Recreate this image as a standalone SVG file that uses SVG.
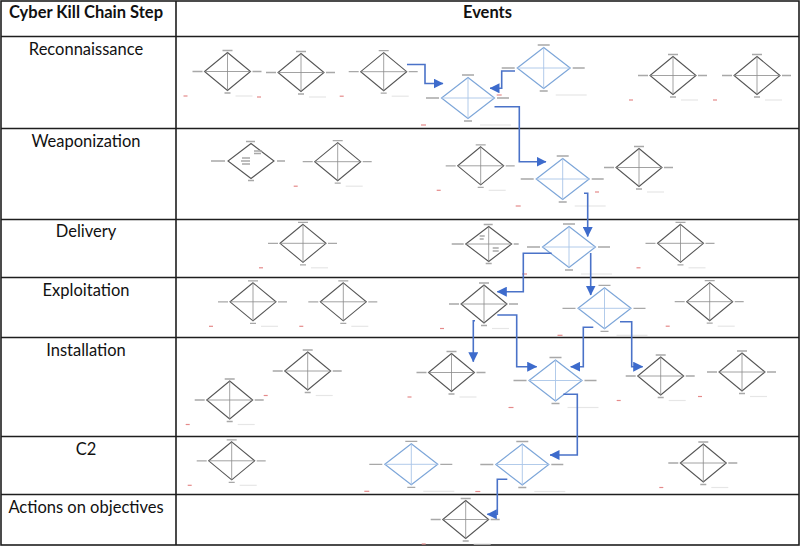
<svg xmlns="http://www.w3.org/2000/svg" xmlns:xlink="http://www.w3.org/1999/xlink" width="800" height="546" viewBox="0 0 800 546">
<style>
.grid{stroke:#1e1e1e;stroke-width:1.6;fill:none}
.hdr{font-family:Lato,"Liberation Sans",sans-serif;font-weight:bold;font-size:16.5px;fill:#111}
.row{font-family:Lato,"Liberation Sans",sans-serif;font-size:16.5px;fill:#111}
.dk{fill:none;stroke:#555;stroke-width:1.1}
.xk{fill:none;stroke:#8a8a8a;stroke-width:0.8}
.db{fill:none;stroke:#7da6d9;stroke-width:1.2}
.xb{fill:none;stroke:#a9c5e8;stroke-width:0.9}
.lbl{fill:none;stroke:#a8a8a8;stroke-width:1.3}
.red{fill:none;stroke:#e58a8a;stroke-width:1.2}
.ghost{fill:none;stroke:#e6e6e6;stroke-width:1.2}
.arr{fill:none;stroke:#4a72c8;stroke-width:1.6}
</style>
<defs>
<marker id="ah" viewBox="0 0 10 10" refX="9.5" refY="5" markerWidth="10" markerHeight="10" markerUnits="userSpaceOnUse" orient="auto">
<path d="M0,0 L10,5 L0,10 Z" fill="#3d6bcc"/>
</marker>
<g id="dkd">
<path class="dk" d="M0,-19 L23,0 L0,19 L-23,0 Z"/>
<path class="xk" d="M0,-19 V19 M-23,0 H23"/>
<path class="lbl" d="M-5,-21 h10 M-35,0 h10 M25,0 h9 M-3,21.5 h6"/>
<path class="red" d="M-44,24.5 h4"/>
<path class="ghost" d="M8,24.5 h17"/>
</g>
<g id="dbd">
<path class="db" d="M0,-20.5 L26.5,0 L0,20.5 L-26.5,0 Z"/>
<path class="xb" d="M0,-20.5 V20.5 M-26.5,0 H26.5"/>
<path class="lbl" d="M-6,-23 h12 M-42,0 h13 M29,0 h12 M-4,23 h8"/>
<path class="red" d="M-47,27 h5"/>
<path class="ghost" d="M12,27 h31"/>
</g>
<g id="dod">
<path class="dk" d="M0,-17.5 L23,0 L0,17.5 L-23,0 Z"/>
<path class="lbl" d="M-5,-19.5 h9 M-40,0 h14 M26,0 h8 M-3,19.5 h6 M3,-10 h8 M3,-7.5 h7 M-9,-3 h8 M-10,0 h9 M-9,3 h8"/>
</g>
<g id="dxd">
<path class="dk" d="M0,-17.5 L23,0 L0,17.5 L-23,0 Z"/>
<path class="xk" d="M0,-17.5 V17.5 M-23,0 H23"/>
<path class="lbl" d="M-5,-19.5 h9 M-37,0 h12 M25,0 h5 M-3,19.5 h6 M-9,-8 h5 M-9,-5 h4 M4,4 h6 M4,7 h6"/>
</g>
</defs>

<g id="table">
<rect class="grid" x="1" y="1" width="798" height="544"/>
<path class="grid" d="M176,1 V545 M1,36.5 H799 M1,128.5 H799 M1,219.5 H799 M1,277.5 H799 M1,337.5 H799 M1,436.5 H799 M1,494.5 H799"/>
<text class="hdr" x="86" y="17.5" text-anchor="middle">Cyber Kill Chain Step</text>
<text class="hdr" x="487.5" y="17.5" text-anchor="middle">Events</text>
<text class="row" x="86" y="54.5" text-anchor="middle">Reconnaissance</text>
<text class="row" x="86" y="146.5" text-anchor="middle">Weaponization</text>
<text class="row" x="86" y="237" text-anchor="middle">Delivery</text>
<text class="row" x="86" y="296" text-anchor="middle">Exploitation</text>
<text class="row" x="86" y="356" text-anchor="middle">Installation</text>
<text class="row" x="86" y="455" text-anchor="middle">C2</text>
<text class="row" x="86" y="513" text-anchor="middle">Actions on objectives</text>
</g>

<g id="r1">
<g id="r1a"><use xlink:href="#dkd" href="#dkd" x="227.5" y="71.5"/></g>
<g id="r1b"><use xlink:href="#dkd" href="#dkd" x="301" y="72.5"/></g>
<g id="r1c"><use xlink:href="#dkd" href="#dkd" x="383.7" y="71.7"/></g>
<g id="r1d"><use xlink:href="#dbd" href="#dbd" x="468" y="98"/></g>
<g id="r1e"><use xlink:href="#dbd" href="#dbd" x="543.7" y="68"/></g>
<g id="r1f"><use xlink:href="#dkd" href="#dkd" x="673" y="75.5"/></g>
<g id="r1g"><use xlink:href="#dkd" href="#dkd" x="757" y="75.5"/></g>
</g>
<g id="r2">
<g id="r2a"><use xlink:href="#dod" href="#dod" x="251" y="161"/></g>
<g id="r2b"><use xlink:href="#dkd" href="#dkd" x="337.7" y="161.7"/></g>
<g id="r2c"><use xlink:href="#dkd" href="#dkd" x="480.7" y="165.8"/></g>
<g id="r2d"><use xlink:href="#dbd" href="#dbd" x="562.7" y="179"/></g>
<g id="r2e"><use xlink:href="#dkd" href="#dkd" x="639" y="167.5"/></g>
</g>
<g id="r3">
<g id="r3a"><use xlink:href="#dkd" href="#dkd" x="303" y="243.3"/></g>
<g id="r3b"><use xlink:href="#dxd" href="#dxd" x="488.7" y="244"/></g>
<g id="r3c"><use xlink:href="#dbd" href="#dbd" x="569" y="247"/></g>
<g id="r3d"><use xlink:href="#dkd" href="#dkd" x="680.5" y="243.3"/></g>
</g>
<g id="r4">
<g id="r4a"><use xlink:href="#dkd" href="#dkd" x="253" y="301.8"/></g>
<g id="r4b"><use xlink:href="#dkd" href="#dkd" x="343.3" y="301.8"/></g>
<g id="r4c"><use xlink:href="#dkd" href="#dkd" x="484" y="304"/></g>
<g id="r4d"><use xlink:href="#dbd" href="#dbd" x="604.5" y="308.3"/></g>
<g id="r4e"><use xlink:href="#dkd" href="#dkd" x="709.7" y="301.7"/></g>
</g>
<g id="r5">
<g id="r5a"><use xlink:href="#dkd" href="#dkd" x="229.7" y="400"/></g>
<g id="r5b"><use xlink:href="#dkd" href="#dkd" x="307.7" y="371"/></g>
<g id="r5c"><use xlink:href="#dkd" href="#dkd" x="451.5" y="372.5"/></g>
<g id="r5d"><use xlink:href="#dbd" href="#dbd" x="555.5" y="380.5"/></g>
<g id="r5e"><use xlink:href="#dkd" href="#dkd" x="660.7" y="376"/></g>
<g id="r5f"><use xlink:href="#dkd" href="#dkd" x="742" y="372"/></g>
</g>
<g id="r6">
<g id="r6a"><use xlink:href="#dkd" href="#dkd" x="231.7" y="460.8"/></g>
<g id="r6b"><use xlink:href="#dbd" href="#dbd" x="411.3" y="464.3"/></g>
<g id="r6c"><use xlink:href="#dbd" href="#dbd" x="522.3" y="464.5"/></g>
<g id="r6d"><use xlink:href="#dkd" href="#dkd" x="703.3" y="463"/></g>
</g>
<g id="r7">
<g id="r7a"><use xlink:href="#dkd" href="#dkd" x="465.7" y="519.5"/></g>
</g>

<g id="connectors">
<path class="arr" marker-end="url(#ah)" d="M407,64.5 H425 V83.5 H443"/>
<path class="arr" marker-end="url(#ah)" d="M515,71 H501.7 V88.3 H490"/>
<path class="arr" marker-end="url(#ah)" d="M494.5,106.7 H519.3 V161.7 H546"/>
<path class="arr" marker-end="url(#ah)" d="M584,193.3 H587.7 V236.5"/>
<path class="arr" marker-end="url(#ah)" d="M551.7,253.3 H523.3 V291.7 H497.3"/>
<path class="arr" marker-end="url(#ah)" d="M590.7,253 V295"/>
<path class="arr" marker-end="url(#ah)" d="M475,320.7 H473.3 V361.7"/>
<path class="arr" marker-end="url(#ah)" d="M497.3,315 H516.7 V366.7 H536.7"/>
<path class="arr" marker-end="url(#ah)" d="M593.3,327.3 H583.3 V366.7 H570.7"/>
<path class="arr" marker-end="url(#ah)" d="M620,321.7 H631.7 V366.7 H642.7"/>
<path class="arr" marker-end="url(#ah)" d="M563.3,394.3 H577.3 V455 H550"/>
<path class="arr" marker-end="url(#ah)" d="M507.3,479.3 H497.3 V514.3 H487.3"/>
</g>
</svg>
